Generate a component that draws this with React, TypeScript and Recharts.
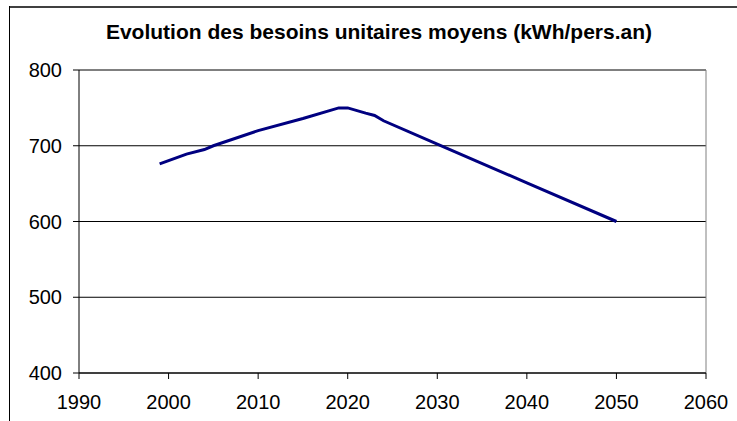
import React from "react";
import { LineChart, Line, XAxis, YAxis, CartesianGrid, ReferenceLine } from "recharts";

const years = [1999, 2002, 2004, 2005, 2010, 2015, 2019, 2020, 2022, 2023, 2024, 2030, 2040, 2050];
const values = [676, 689, 695, 700, 720, 736, 750, 750, 743, 740, 733, 702, 651, 600];
const xTicks = [1990, 2000, 2010, 2020, 2030, 2040, 2050, 2060];
const yTicks = [400, 500, 600, 700, 800];
const title = "Evolution des besoins unitaires moyens (kWh/pers.an)";

const data = years.map((y, i) => ({ year: y, value: values[i] }));

const FONT = "'Liberation Sans', Arial, sans-serif";

export default function App() {
  return (
    <div style={{ position: "fixed", left: 0, top: 0, width: 737, height: 421, overflow: "hidden", background: "#fff" }}>
      <div
        style={{
          position: "absolute",
          left: 0,
          width: 758,
          top: 19,
          textAlign: "center",
          fontFamily: FONT,
          fontWeight: "bold",
          fontSize: 21,
          lineHeight: "26px",
          color: "#000",
          whiteSpace: "nowrap",
        }}
      >
        {title}
      </div>
      <div style={{ position: "absolute", left: 0, top: 0 }}>
        <LineChart width={737} height={421} data={data} margin={{ top: 70, right: 31, bottom: 8, left: 0 }}>
          <CartesianGrid vertical={false} stroke="#000" strokeWidth={1} />
          <XAxis
            dataKey="year"
            type="number"
            domain={[1990, 2060]}
            ticks={xTicks}
            interval={0}
            height={40}
            tickSize={6}
            tickMargin={16}
            axisLine={{ stroke: "#000" }}
            tickLine={{ stroke: "#000" }}
            tick={{ fill: "#000", fontSize: 20, fontFamily: FONT }}
          />
          <YAxis
            type="number"
            domain={[400, 800]}
            ticks={yTicks}
            interval={0}
            width={79}
            tickSize={6}
            tickMargin={11}
            axisLine={{ stroke: "#000" }}
            tickLine={{ stroke: "#000" }}
            tick={{ fill: "#000", fontSize: 20, fontFamily: FONT }}
          />
          <ReferenceLine y={800} stroke="#808080" strokeWidth={1} />
          <ReferenceLine x={2060} stroke="#808080" strokeWidth={1} />
          <Line
            type="linear"
            dataKey="value"
            stroke="#000080"
            strokeWidth={3}
            dot={false}
            isAnimationActive={false}
          />
        </LineChart>
      </div>
      <div
        style={{
          position: "absolute",
          left: 9,
          top: 6,
          width: 1000,
          height: 2,
          background: "#404040",
          zIndex: 10,
          pointerEvents: "none",
        }}
      />
      <div
        style={{
          position: "absolute",
          left: 9,
          top: 6,
          width: 1,
          height: 1000,
          background: "#000",
          zIndex: 10,
          pointerEvents: "none",
        }}
      />
    </div>
  );
}
